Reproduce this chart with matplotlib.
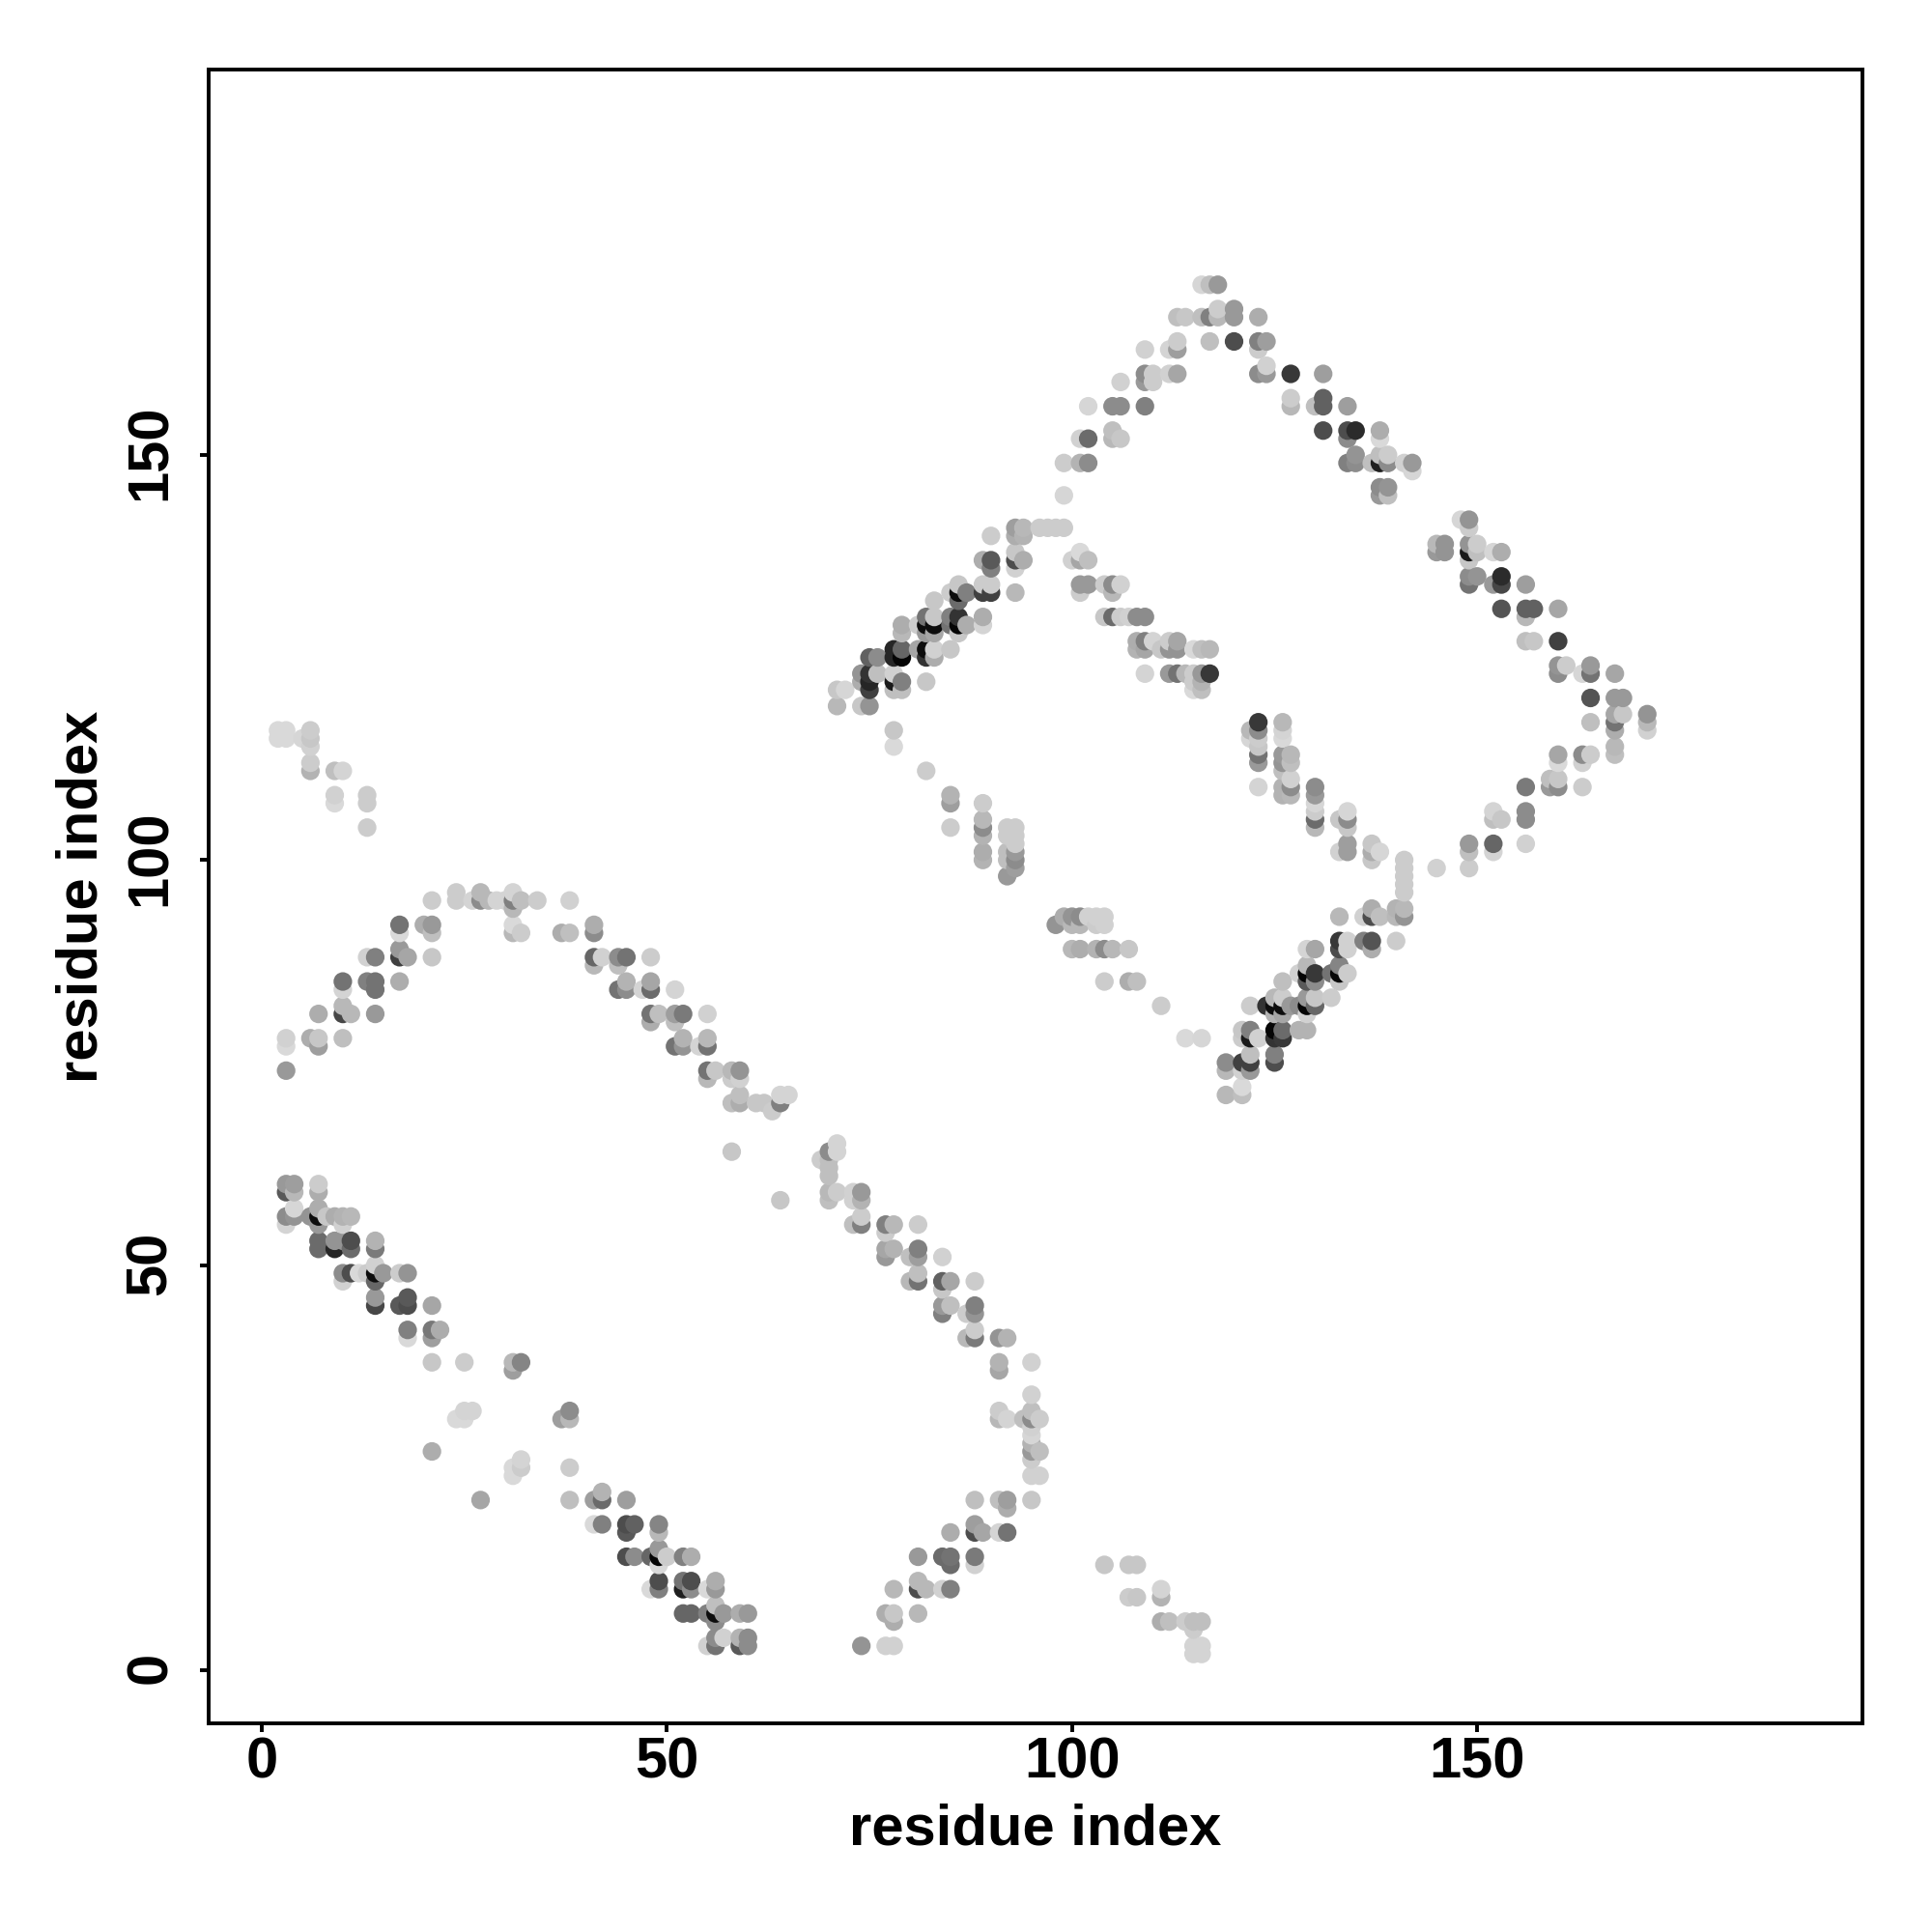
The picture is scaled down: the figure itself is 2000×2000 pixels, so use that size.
import numpy as np
import matplotlib
matplotlib.use("Agg")
import matplotlib.pyplot as plt
from matplotlib.transforms import ScaledTranslation

# contacts are (residue x, residue y, grey level)
lower_band = [
    (3,60,.6),(4,60,.62),(7,60,.8),(3,59,.35),(4,59,.72),(7,59,.68),(4,57,.84),(7,57,.68),
    (3,56,.55),(4,56,.58),(6,56,.58),(7,56,.05),(8,56,.78),(9,56,.68),(10,56,.7),(11,56,.72),
    (3,55,.83),(7,55,.6),(10,55,.82),(7,53,.42),(9,53,.58),(10,53,.58),(11,53,.3),(14,53,.7),
    (7,52,.42),(9,52,.15),(11,52,.42),(14,52,.48),(14,50,.82),(10,49,.55),(11,49,.3),(12,49,.85),
    (13,49,.8),(14,49,.05),(15,49,.6),(17,49,.8),(18,49,.58),(10,48,.82),(14,48,.4),(14,46,.6),
    (18,46,.35),(14,45,.28),(17,45,.35),(18,45,.3),(21,45,.65),(18,42,.5),(21,42,.47),(22,42,.68),
    (18,41,.85),(21,41,.62),(21,38,.78),(25,38,.8),(31,38,.72),(32,38,.52),(31,37,.62),
    (25,32,.83),(26,32,.83),(38,32,.55),(24,31,.85),(25,31,.85),(37,31,.62),(38,31,.72),
    (21,27,.68),(32,26,.83),(31,25,.85),(32,25,.8),(38,25,.8),(31,24,.85),(42,22,.7),
    (27,21,.65),(38,21,.75),(41,21,.62),(42,21,.42),(45,21,.62),(41,18,.85),(42,18,.5),
    (45,18,.3),(46,18,.38),(49,18,.52),(45,17,.35),(49,17,.72),(49,15,.6),(45,14,.3),(46,14,.55),
    (48,14,.4),(49,14,.02),(50,14,.8),(52,14,.5),(53,14,.68),(49,13,.85),(49,11,.3),(52,11,.45),
    (53,11,.3),(56,11,.68),(48,10,.85),(49,10,.5),(52,10,.12),(53,10,.55),(55,10,.85),(56,10,.6),
    (56,8,.75),(52,7,.4),(53,7,.4),(55,7,.5),(56,7,.05),(57,7,.6),(59,7,.68),(60,7,.6),(56,6,.55),
    (56,4,.55),(57,4,.82),(59,4,.7),(60,4,.55),(55,3,.82),(56,3,.45),(59,3,.35),(60,3,.55),
]

upper_left_corner = [
    (2,116,.85),(3,116,.85),(6,116,.8),(2,115,.85),(3,115,.85),(5,115,.84),(6,115,.78),(6,114,.82),
    (6,112,.8),(6,111,.7),(9,111,.75),(10,111,.83),(9,108,.82),(13,108,.8),(9,107,.85),(13,107,.8),
    (13,104,.8),
]

arch = [
    (24,96,.8),(27,96,.72),(31,96,.83),(21,95,.8),(24,95,.8),(26,95,.83),(27,95,.55),(28,95,.72),
    (29,95,.83),(30,95,.83),(31,95,.5),(32,95,.75),(34,95,.8),(38,95,.82),(31,94,.72),
    (17,92,.45),(20,92,.68),(21,92,.6),(31,92,.85),(41,92,.68),(17,91,.85),(21,91,.75),(31,91,.72),
    (32,91,.8),(37,91,.68),(38,91,.75),(41,91,.55),(17,89,.6),(13,88,.82),(14,88,.5),(17,88,.25),
    (18,88,.65),(21,88,.78),(41,88,.4),(42,88,.82),(44,88,.55),(45,88,.45),(48,88,.8),(41,87,.72),
    (44,87,.75),(10,85,.45),(13,85,.5),(14,85,.45),(17,85,.68),(45,85,.7),(48,85,.65),(10,84,.83),
    (14,84,.45),(44,84,.45),(45,84,.55),(47,84,.83),(48,84,.42),(51,84,.83),(10,82,.72),(7,81,.68),
    (10,81,.28),(11,81,.72),(14,81,.6),(48,81,.45),(49,81,.75),(51,81,.62),(52,81,.48),(55,81,.82),
    (48,80,.68),(51,80,.75),(3,78,.82),(6,78,.68),(7,78,.78),(10,78,.75),(52,78,.7),(55,78,.72),
    (3,77,.85),(7,77,.62),(51,77,.45),(52,77,.58),(54,77,.83),(55,77,.45),(3,74,.6),(55,74,.45),
    (56,74,.78),(58,74,.72),(59,74,.58),(55,73,.72),(58,73,.8),(59,73,.82),(59,71,.75),(64,71,.83),
    (65,71,.83),(58,70,.75),(59,70,.68),(61,70,.78),(62,70,.78),(64,70,.5),(63,69,.8),(58,64,.78),
]

c_curve = [
    (71,65,.83),(70,64,.55),(71,64,.83),(69,63,.8),(70,63,.75),(70,62,.75),(70,61,.75),(70,59,.72),
    (71,59,.8),(73,59,.82),(74,59,.6),(64,58,.78),(70,58,.75),(73,58,.82),(74,58,.7),(74,56,.8),
    (73,55,.75),(74,55,.5),(77,55,.5),(78,55,.72),(81,55,.8),(77,54,.8),(77,52,.65),(78,52,.7),
    (81,52,.5),(77,51,.6),(80,51,.75),(81,51,.62),(84,51,.82),(81,49,.75),(80,48,.72),(81,48,.45),
    (84,48,.38),(85,48,.65),(88,48,.8),(84,47,.78),(84,45,.6),(85,45,.75),(88,45,.5),(84,44,.5),
    (87,44,.8),(88,44,.58),(88,42,.8),(87,41,.72),(88,41,.48),(91,41,.58),(92,41,.7),(91,38,.7),
    (95,38,.82),(91,37,.65),(95,34,.82),(91,32,.8),(95,32,.75),(91,31,.72),(92,31,.83),(94,31,.75),
    (95,31,.55),(96,31,.8),(95,30,.82),(95,29,.84),(95,28,.7),(95,27,.6),(96,27,.75),(95,26,.8),
    (95,24,.82),(96,24,.82),(88,21,.75),(91,21,.75),(92,21,.62),(95,21,.78),(92,20,.68),(88,18,.62),
    (85,17,.68),(88,17,.3),(89,17,.65),(91,17,.83),(92,17,.45),(81,14,.6),(84,14,.42),(85,14,.45),
    (88,14,.48),(85,13,.42),(88,13,.82),(81,11,.72),(78,10,.72),(81,10,.3),(82,10,.72),(84,10,.82),
    (85,10,.5),(77,7,.68),(78,7,.78),(81,7,.72),(78,6,.68),(74,3,.58),(77,3,.82),(78,3,.82),
]

bottom_right_tail = [
    (104,13,.78),(107,13,.78),(108,13,.78),(111,10,.83),(107,9,.8),(108,9,.78),(111,9,.7),
    (111,6,.68),(112,6,.75),(114,6,.8),(115,6,.75),(116,6,.75),(115,5,.8),(115,3,.83),(116,3,.83),
    (115,2,.83),(116,2,.83),
]

inner_diamond_left = [
    (93,141,.62),(94,141,.72),(96,141,.8),(97,141,.8),(98,141,.8),(99,141,.8),(90,140,.8),(93,140,.68),
    (94,140,.7),(93,138,.78),(89,137,.68),(90,137,.35),(93,137,.3),(94,137,.68),(90,136,.5),(93,136,.82),
    (86,134,.78),(89,134,.8),(90,134,.8),(85,133,.8),(86,133,.05),(87,133,.5),(89,133,.25),(90,133,.25),
    (93,133,.72),(83,132,.78),(86,132,.42),(82,130,.45),(83,130,.78),(85,130,.5),(86,130,.2),(89,130,.68),
    (79,129,.68),(81,129,.8),(82,129,.05),(83,129,.05),(85,129,.45),(86,129,.02),(87,129,.68),(89,129,.83),
    (79,128,.72),(82,128,.6),(83,128,.65),(86,128,.78),(78,126,.15),(79,126,.4),(81,126,.65),(82,126,.05),
    (83,126,.82),(85,126,.78),(75,125,.38),(76,125,.55),(78,125,.15),(79,125,.02),(82,125,.2),(83,125,.68),
    (74,123,.58),(75,123,.2),(76,123,.75),(78,123,.82),(74,122,.68),(75,122,.15),(78,122,.1),(79,122,.5),
    (82,122,.78),(71,121,.78),(72,121,.84),(75,121,.25),(78,121,.75),(79,121,.75),(71,119,.72),(74,119,.78),
    (75,119,.58),(78,116,.78),(78,114,.85),(82,111,.8),(85,108,.7),(85,107,.62),(89,107,.8),(89,105,.72),
    (85,104,.8),(89,104,.55),(92,104,.8),(93,104,.8),(89,103,.7),(92,103,.8),(93,103,.8),(93,102,.8),
    (89,101,.68),(92,101,.75),(93,101,.6),(89,100,.7),(92,100,.75),(93,100,.55),(93,99,.62),(92,98,.6),
]

inner_diamond_top = [
    (101,138,.85),(100,137,.82),(101,137,.65),(102,137,.75),(101,134,.6),(102,134,.6),(104,134,.8),
    (105,134,.55),(106,134,.82),(101,133,.8),(105,133,.72),(104,130,.78),(105,130,.42),(106,130,.8),
    (107,130,.82),(108,130,.55),(109,130,.55),(108,127,.68),(109,127,.5),(110,127,.83),(112,127,.8),
    (113,127,.65),(108,126,.7),(109,126,.65),(111,126,.78),(112,126,.58),(113,126,.58),(115,126,.85),
    (116,126,.75),(117,126,.72),(109,123,.83),(112,123,.6),(113,123,.45),(114,123,.72),(115,123,.8),
    (116,123,.6),(117,123,.22),(115,122,.8),(116,122,.7),(115,121,.85),(116,121,.75),
]

outer_top = [
    (116,171,.84),(117,171,.75),(118,171,.6),(118,168,.8),(120,168,.6),(113,167,.75),(114,167,.78),
    (116,167,.75),(117,167,.5),(118,167,.72),(120,167,.6),(123,167,.68),(113,164,.8),(117,164,.75),
    (120,164,.3),(123,164,.5),(124,164,.62),(109,163,.82),(112,163,.83),(113,163,.62),(123,163,.8),
    (124,161,.82),(109,160,.55),(110,160,.8),(112,160,.82),(113,160,.65),(123,160,.55),(124,160,.6),
    (127,160,.22),(131,160,.62),(106,159,.82),(109,159,.6),(110,159,.8),(127,157,.8),(131,157,.38),
    (102,156,.84),(105,156,.55),(106,156,.55),(109,156,.5),(127,156,.72),(130,156,.75),(131,156,.38),
    (134,156,.62),(105,153,.75),(131,153,.3),(134,153,.3),(135,153,.17),(138,153,.68),(101,152,.82),
    (102,152,.42),(105,152,.72),(106,152,.78),(134,152,.55),(138,152,.85),(135,150,.58),(138,150,.75),
    (139,150,.8),(99,149,.8),(101,149,.7),(102,149,.55),(134,149,.5),(135,149,.55),(137,149,.75),
    (138,149,.12),(139,149,.55),(141,149,.82),(142,149,.6),(142,148,.84),(138,146,.55),(139,146,.58),
    (99,145,.84),(138,145,.6),(139,145,.75),
]

outer_right = [
    (148,142,.84),(149,142,.58),(149,141,.8),(145,139,.72),(146,139,.58),(149,139,.58),(150,139,.8),
    (145,138,.6),(146,138,.58),(149,138,.1),(150,138,.75),(152,138,.84),(153,138,.68),(149,137,.78),
    (149,135,.55),(150,135,.58),(153,135,.17),(149,134,.45),(152,134,.6),(153,134,.28),(156,134,.62),
    (153,131,.33),(156,131,.38),(157,131,.38),(160,131,.65),(156,130,.72),(156,127,.75),(157,127,.78),
    (160,127,.25),(160,124,.58),(161,124,.8),(164,124,.6),(160,123,.55),(163,123,.84),(164,123,.45),
    (167,123,.65),(164,120,.33),(167,120,.6),(168,120,.6),(167,118,.65),(168,118,.78),(171,118,.58),
    (164,117,.75),(167,117,.45),(171,117,.72),(167,116,.68),(171,116,.82),(167,114,.72),(160,113,.65),
    (163,113,.55),(164,113,.8),(167,113,.75),(160,112,.85),(163,112,.82),(159,110,.75),(160,110,.78),
    (156,109,.48),(159,109,.6),(160,109,.55),(163,109,.8),(156,106,.55),(152,106,.83),(152,105,.75),
    (153,105,.78),(156,105,.55),(149,102,.6),(152,102,.4),(156,102,.82),(149,101,.75),(152,101,.83),
    (145,99,.82),(149,99,.8),
]

inner_diamond_right = [
    (123,117,.22),(126,117,.72),(122,116,.72),(123,116,.55),(126,116,.83),(122,115,.84),(123,115,.8),
    (126,115,.85),(123,114,.78),(123,113,.45),(126,113,.6),(127,113,.72),(123,112,.6),(126,112,.58),
    (127,112,.75),(126,111,.75),(127,110,.82),(123,109,.83),(126,109,.7),(127,109,.55),(130,109,.55),
    (126,108,.7),(127,108,.72),(130,108,.6),(130,107,.84),(130,106,.8),(134,106,.84),(130,105,.42),
    (133,105,.78),(134,105,.55),(130,104,.72),(134,104,.78),(134,102,.62),(137,102,.78),(133,101,.82),
    (134,101,.62),(137,101,.68),(138,101,.84),(137,100,.78),(141,100,.8),(141,99,.8),(141,98,.8),
    (141,97,.8),(141,96,.8),
]

inner_diamond_bottom = [
    (137,94,.68),(140,94,.7),(141,94,.72),(99,93,.68),(100,93,.58),(101,93,.55),(102,93,.82),(103,93,.82),
    (104,93,.82),(133,93,.72),(136,93,.82),(137,93,.3),(138,93,.75),(140,93,.72),(141,93,.58),(98,92,.58),
    (100,92,.72),(101,92,.72),(103,92,.8),(104,92,.82),(133,90,.22),(134,90,.82),(136,90,.5),(137,90,.33),
    (140,90,.8),(100,89,.72),(101,89,.68),(103,89,.7),(104,89,.55),(105,89,.72),(107,89,.78),(129,89,.83),
    (130,89,.65),(133,89,.3),(134,89,.82),(137,89,.68),(129,87,.72),(133,87,.52),(128,86,.82),(129,86,.02),
    (130,86,.22),(132,86,.45),(133,86,.03),(134,86,.8),(104,85,.8),(107,85,.68),(108,85,.75),(126,85,.75),
    (129,85,.35),(130,85,.55),(133,85,.78),(125,83,.72),(126,83,.8),(129,83,.6),(130,83,.78),(132,83,.8),
    (111,82,.8),(122,82,.8),(124,82,.2),(125,82,.05),(126,82,.05),(127,82,.6),(128,82,.55),(129,82,.02),
    (130,82,.4),(125,81,.7),(126,81,.65),(129,81,.82),(121,79,.78),(122,79,.5),(125,79,.02),(126,79,.42),
    (128,79,.7),(129,79,.7),(114,78,.85),(116,78,.84),(121,78,.8),(122,78,.1),(123,78,.82),(125,78,.2),
    (126,78,.22),(122,76,.75),(125,76,.5),(119,75,.55),(121,75,.25),(122,75,.25),(125,75,.3),(119,74,.72),
    (121,74,.82),(122,74,.6),(121,72,.85),(119,71,.72),(121,71,.75),
]

tick_values = [0, 50, 100, 150]
axis_label = "residue index"

contacts = np.array(lower_band + upper_left_corner + arch + c_curve + bottom_right_tail
                    + inner_diamond_left + inner_diamond_top + outer_top + outer_right
                    + inner_diamond_right + inner_diamond_bottom)
# later residues are painted over earlier ones
order = np.lexsort((contacts[:, 1], contacts[:, 0]))
contacts = contacts[order]

plt.rcParams['font.family'] = ['Liberation Sans', 'DejaVu Sans']

fig = plt.figure(figsize=(10, 10), dpi=200)
ax = fig.add_axes([216 / 2000, 1 - 1784 / 2000, (1928 - 216) / 2000, (1784 - 72) / 2000])
ax.scatter(contacts[:, 0], contacts[:, 1], s=48, c=np.repeat(contacts[:, 2:], 3, axis=1),
           linewidths=0, clip_on=True)
ax.set_xlim(-6.56, 197.56)
ax.set_ylim(-6.56, 197.56)
ax.set_xticks(tick_values)
ax.set_yticks(tick_values)
ax.tick_params(length=3.2, width=1.4, labelsize=21.5)
ax.tick_params(axis='x', pad=1.6)
ax.tick_params(axis='y', pad=8.3)
for lab in ax.get_xticklabels():
    lab.set_fontweight('bold')
# the rotated labels sit a touch low without this nudge
nudge = ScaledTranslation(0, 0.8 / 72, fig.dpi_scale_trans)
for lab in ax.get_yticklabels():
    lab.set_fontweight('bold')
    lab.set_rotation(90)
    lab.set_verticalalignment('center')
    lab.set_transform(lab.get_transform() + nudge)
for side in ax.spines.values():
    side.set_linewidth(1.4)
ax.set_xlabel(axis_label, fontsize=21.5, fontweight='bold', labelpad=5)
ax.set_ylabel(axis_label, fontsize=21.5, fontweight='bold', labelpad=6)

fig.savefig("out.png", dpi=200)
